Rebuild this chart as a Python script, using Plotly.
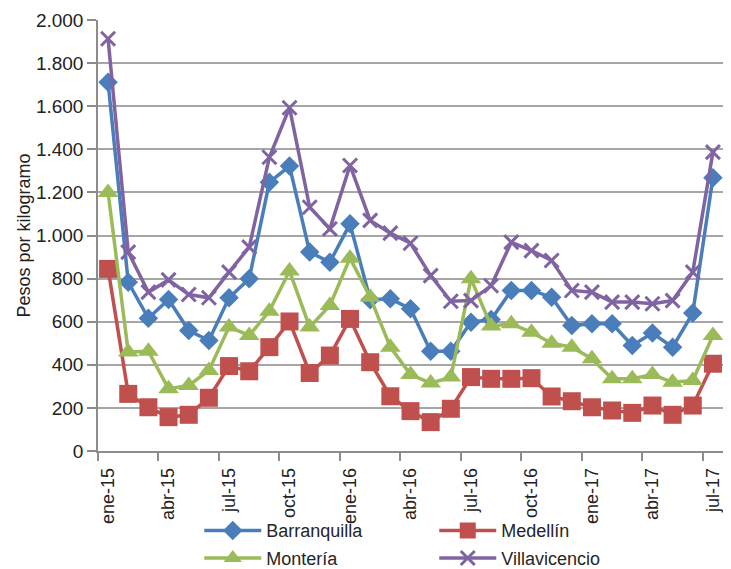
import plotly.graph_objects as go

months = ["ene-15","feb-15","mar-15","abr-15","may-15","jun-15","jul-15","ago-15","sep-15","oct-15","nov-15","dic-15",
          "ene-16","feb-16","mar-16","abr-16","may-16","jun-16","jul-16","ago-16","sep-16","oct-16","nov-16","dic-16",
          "ene-17","feb-17","mar-17","abr-17","may-17","jun-17","jul-17"]

barranquilla = [1711,783,616,703,559,513,711,799,1247,1322,923,876,1054,702,706,660,463,463,598,610,745,745,714,582,590,590,490,547,482,640,1268]
medellin = [845,265,203,157,168,247,394,370,482,601,362,443,613,412,254,185,134,196,343,335,335,338,253,231,203,188,177,211,168,211,405]
monteria = [1200,459,463,289,304,374,575,536,649,835,575,675,895,714,482,355,315,343,799,580,590,551,500,482,428,335,335,355,319,327,536]
villavicencio = [1913,923,737,794,726,711,830,946,1363,1593,1131,1031,1325,1070,1011,964,814,695,698,767,969,930,884,745,737,691,691,683,698,830,1387]

tick_labels = months[::3]

x_idx = list(range(len(months)))
tick_idx = x_idx[::3]

FONT = "Liberation Sans, Arial, sans-serif"

fig = go.Figure()
series = [
    ("Barranquilla", barranquilla, "#4A7EBB", dict(symbol="diamond", size=15), "legend"),
    ("Medellín", medellin, "#C0504D", dict(symbol="square", size=18), "legend"),
    ("Montería", monteria, "#9BBB59", dict(symbol="triangle-up", size=18), "legend2"),
    ("Villavicencio", villavicencio, "#8064A2", dict(symbol="x-thin", size=14, line=dict(width=3, color="#8064A2")), "legend2"),
]
for name, vals, color, mk, lg in series:
    m = dict(color=color, **mk)
    fig.add_trace(go.Scatter(
        x=x_idx, y=vals, name=name, mode="lines+markers",
        line=dict(color=color, width=3.5), marker=m, legend=lg,
    ))

legend_common = dict(orientation="h", font=dict(family=FONT, size=18, color="#262626"),
                     itemwidth=57, entrywidth=163, entrywidthmode="pixels",
                     bgcolor="rgba(0,0,0,0)", xanchor="left", yanchor="middle")

# page body has an 8px margin, so the figure is sized/offset to compensate
fig.update_layout(
    width=723, height=561,
    margin=dict(l=90, r=8, t=12, b=118, autoexpand=False),
    paper_bgcolor="white", plot_bgcolor="white",
    separators=",.",
    font=dict(family=FONT, size=18, color="#222222"),
    showlegend=True,
    legend=dict(x=0.162, y=-0.185, **legend_common),
    legend2=dict(x=0.162, y=-0.249, **legend_common),
    xaxis=dict(
        range=[-0.5, 30.5], tickmode="array", tickvals=tick_idx, ticktext=tick_labels,
        tickangle=-90, ticks="outside", ticklen=8, tickcolor="rgba(0,0,0,0)",
        showgrid=False, zeroline=False, showline=True, linecolor="#8C8C8C", linewidth=1.5,
        tickfont=dict(family=FONT, size=18, color="#222222"), automargin=False,
        minor=dict(tickmode="array", tickvals=[i - 0.5 for i in tick_idx], ticks="outside",
                   ticklen=8, tickcolor="#8C8C8C", tickwidth=1.5, showgrid=False),
    ),
    yaxis=dict(
        range=[0, 2000], tickmode="linear", tick0=0, dtick=200, tickformat=",d",
        ticks="outside", ticklen=9, tickcolor="#8C8C8C", tickwidth=1.5,
        showgrid=True, gridcolor="#A6A6A6", gridwidth=1.5,
        zeroline=False, showline=True, linecolor="#8C8C8C", linewidth=1.5,
        tickfont=dict(family=FONT, size=19, color="#222222"), automargin=False,
        title=dict(text="Pesos por kilogramo", font=dict(family=FONT, size=18, color="#222222"), standoff=1),
    ),
)

fig.write_html("out.html")
